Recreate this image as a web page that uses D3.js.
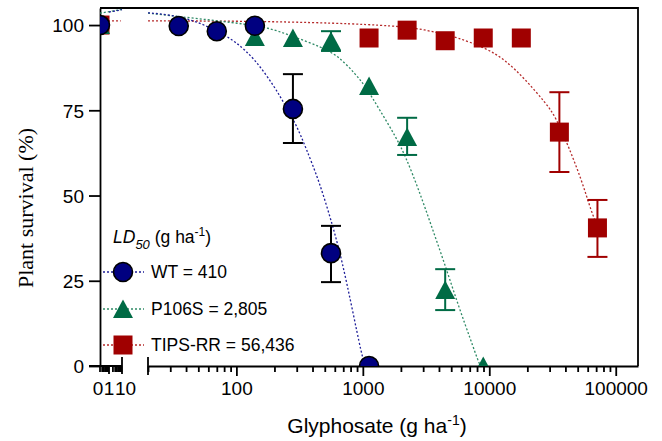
<!DOCTYPE html>
<html lang="en">
<head>
  <meta charset="UTF-8" />
  <title>Plant survival vs glyphosate</title>
  <script src="https://d3js.org/d3.v7.min.js"></script>
  <style>
    body { margin: 0; background: #fff; font-family: "Liberation Sans", Arial, sans-serif; }
    .axis path, .axis line { stroke: #000; stroke-width: 1.8; }
    .axis text { font-size: 19px; fill: #000; font-family: "Liberation Sans", Arial, sans-serif; }
    .fit { fill: none; stroke-width: 1.3; stroke-dasharray: 2,2; }
  </style>
</head>
<body>
<svg width="662" height="441"></svg>
<script>
  // measured points
  const wtDose = [0, 35, 70, 140, 280, 560, 1120];
  const wtSurv = [100, 99.7, 98.2, 99.8, 75.4, 33.1, 0];
  const wtLow  = [null, null, null, null, 65.4, 24.6, null];
  const wtHigh = [null, null, null, null, 85.6, 41.1, null];

  const p106Dose = [0, 140, 280, 560, 1120, 2240, 4480, 8960];
  const p106Surv = [100, 96.5, 96.2, 95.3, 82.1, 67.2, 22.3, 0];
  const p106Low  = [null, null, null, 92.4, null, 61.9, 16.4, null];
  const p106High = [null, null, null, 98.2, null, 72.8, 28.4, null];

  const tipsDose = [0, 1120, 2240, 4480, 8960, 17920, 35840, 71680];
  const tipsSurv = [100, 96.2, 98.5, 95.4, 96.2, 96.2, 68.6, 40.5];
  const tipsLow  = [null, null, null, null, null, null, 56.9, 32];
  const tipsHigh = [null, null, null, null, null, null, 80.3, 48.7];

  // fitted curves
  const wtFitDose = [20, 30, 45, 70, 100, 140, 200, 247, 300, 354, 449, 580, 683, 819, 982, 1045];
  const wtFitSurv = [103.6, 103, 101.5, 98.4, 95, 90, 82, 76, 70.5, 64, 54.5, 41, 31, 17.3, 3, 0];
  const wtLeftDose = [1, 10];
  const wtLeftSurv = [103.8, 104.5];

  const p106FitDose = [20, 33, 73, 115, 174, 275, 474, 646, 881, 1058, 1340, 1825, 2188, 2773, 3508, 4529, 5740, 7140, 8260, 8570];
  const p106FitSurv = [103.5, 102.6, 101.2, 100.3, 99.4, 96.8, 93.5, 90.8, 85.5, 81.8, 75.5, 67.2, 61.3, 51.6, 40.8, 29, 17.3, 7.6, 0.9, 0];
  const p106LeftDose = [0, 1, 10];
  const p106LeftSurv = [103.5, 103.9, 104.6];

  const tipsFitDose = [20, 105, 646, 1825, 2624, 3990, 5433, 9376, 13490, 19430, 28000, 33600, 42500, 53800, 64600, 71680];
  const tipsFitSurv = [101.2, 101.2, 100.6, 99.7, 99.1, 97.7, 96.5, 93.3, 89.7, 83.9, 77.1, 73, 64.2, 54.5, 44.9, 41];
  const tipsLeftDose = [0, 8];
  const tipsLeftSurv = [101.2, 101.2];

  const yTicks = [0, 25, 50, 75, 100];
  const xMajor = [100, 1000, 10000, 100000];
  const leftMajor = [1, 10];
  const leftLabels = [0, 1, 10];
  const legendTitle = "LD";
  const legendLabels = ["WT = 410", "P106S = 2,805", "TIPS-RR = 56,436"];

  const svg = d3.select("svg");
  const L = 100, R = 638, T = 8, B = 366;

  const y = d3.scaleLinear().domain([0, 105]).range([B, T]);
  const xLeft = d3.scaleLog().domain([1, 10]).range([L + 9, L + 22]);
  const xMain = d3.scaleLog().domain([20, 150000]).range([L + 48, R]);
  const xPos = d => d === 0 ? L : (d <= 10 ? xLeft(d) : xMain(d));

  const series = [
    { dose: tipsDose, surv: tipsSurv, low: tipsLow, high: tipsHigh, fd: tipsFitDose, fs: tipsFitSurv,
      ld: tipsLeftDose, ls: tipsLeftSurv, fill: "#a00000", bar: "#a00000", line: "#b52a2a", shape: "square" },
    { dose: p106Dose, surv: p106Surv, low: p106Low, high: p106High, fd: p106FitDose, fs: p106FitSurv,
      ld: p106LeftDose, ls: p106LeftSurv, fill: "#006b45", bar: "#006b45", line: "#2f8a66", shape: "triangle" },
    { dose: wtDose, surv: wtSurv, low: wtLow, high: wtHigh, fd: wtFitDose, fs: wtFitSurv,
      ld: wtLeftDose, ls: wtLeftSurv, fill: "#000080", bar: "#000", line: "#1f1f99", shape: "circle" }
  ];

  svg.append("defs").append("clipPath").attr("id", "plot")
    .append("rect").attr("x", L).attr("y", T).attr("width", R - L).attr("height", B - T);

  // frame
  svg.append("path")
    .attr("d", `M${L},${T}H${R}V${B}`)
    .attr("fill", "none").attr("stroke", "#000").attr("stroke-width", 1.8);

  // y axis
  const yAxis = svg.append("g").attr("class", "axis")
    .attr("transform", `translate(${L},0)`)
    .call(d3.axisLeft(y).tickValues(yTicks).tickSize(11).tickSizeOuter(0).tickPadding(5));
  yAxis.selectAll("text").attr("dy", "0.36em");

  // main x axis: minor ticks then major ones
  const minor = [];
  [10, 100, 1000, 10000, 100000].forEach(p => {
    for (let k = 2; k <= 9; k++) if (p * k >= 20 && p * k <= 150000) minor.push(p * k);
  });
  svg.append("g").attr("class", "axis")
    .attr("transform", `translate(0,${B})`)
    .call(d3.axisBottom(xMain).tickValues(minor).tickSize(6).tickSizeOuter(0).tickFormat(""));
  const xAx = svg.append("g").attr("class", "axis")
    .attr("transform", `translate(0,${B})`)
    .call(d3.axisBottom(xMain).tickValues(xMajor).tickSize(10).tickSizeOuter(0).tickPadding(6)
      .tickFormat(d3.format("d")));
  xAx.select(".domain").remove();

  // left (broken) segment
  const leftG = svg.append("g").attr("class", "axis").attr("transform", `translate(0,${B})`);
  leftG.append("line").attr("x1", L - 11).attr("x2", xLeft(10)).attr("y1", 0).attr("y2", 0);
  const leftMinor = [0.3, 0.4, 0.5, 0.6, 0.7, 0.8, 0.9, 2, 3, 4, 5, 6, 7, 8, 9];
  leftG.selectAll(".lm").data(leftMinor).join("line")
    .attr("x1", d => xLeft(d)).attr("x2", d => xLeft(d)).attr("y1", 0).attr("y2", 6);
  leftG.append("line").attr("x1", L).attr("x2", L).attr("y1", 0).attr("y2", 6);
  leftG.selectAll(".lM").data(leftMajor).join("line")
    .attr("x1", d => xLeft(d)).attr("x2", d => xLeft(d)).attr("y1", d => d === 10 ? -9 : 0).attr("y2", 8);
  // break mark at start of the main segment
  leftG.append("line").attr("x1", xMain(20)).attr("x2", xMain(20)).attr("y1", -9).attr("y2", 9);
  const leftShift = { 0: -2, 1: 0, 10: 3.5 };
  leftG.selectAll("text").data(leftLabels).join("text")
    .attr("x", d => xPos(d) + leftShift[d]).attr("y", 16).attr("dy", "0.71em")
    .attr("text-anchor", "middle").attr("fill", "#000").text(d => d);

  // axis titles
  const xt = svg.append("text").attr("x", 377).attr("y", 433).attr("text-anchor", "middle")
    .style("font-size", "21px").style("font-family", "'Liberation Sans', Arial, sans-serif");
  xt.append("tspan").text("Glyphosate (g ha");
  xt.append("tspan").attr("dy", -8).style("font-size", "14px").text("-1");
  xt.append("tspan").attr("dy", 8).text(")");

  svg.append("text").attr("transform", "translate(33,208) rotate(-90)")
    .attr("text-anchor", "middle")
    .style("font-size", "22px").style("font-family", "'Liberation Serif', 'Times New Roman', serif")
    .text("Plant survival (%)");

  // plot contents
  const plot = svg.append("g").attr("clip-path", "url(#plot)");
  const line = d3.line().x(d => xPos(d[0])).y(d => y(d[1])).curve(d3.curveBasis);

  series.forEach(s => {
    plot.append("path").attr("class", "fit").attr("stroke", s.line)
      .attr("d", line(d3.zip(s.fd, s.fs)));
    plot.append("path").attr("class", "fit").attr("stroke", s.line)
      .attr("d", line(d3.zip(s.ld, s.ls)));
  });

  const tri = "M0,-9.5L10,9L-10,9Z";
  function marker(g, shape, fill) {
    if (shape === "circle") {
      g.append("circle").attr("r", 9.5).attr("fill", fill).attr("stroke", "#000").attr("stroke-width", 1.6);
    } else if (shape === "square") {
      g.append("rect").attr("x", -9.5).attr("y", -9.5).attr("width", 19).attr("height", 19).attr("fill", fill);
    } else {
      g.append("path").attr("d", tri).attr("fill", fill);
    }
  }

  series.forEach(s => {
    const pts = s.dose.map((d, i) => ({ d, v: s.surv[i], lo: s.low[i], hi: s.high[i] }));
    pts.filter(p => p.hi != null).forEach(p => {
      const g = plot.append("g").attr("stroke", s.bar).attr("stroke-width", 2);
      const cx = xPos(p.d);
      g.append("line").attr("x1", cx).attr("x2", cx).attr("y1", y(p.lo)).attr("y2", y(p.hi));
      [p.lo, p.hi].forEach(v => g.append("line").attr("x1", cx - 10).attr("x2", cx + 10).attr("y1", y(v)).attr("y2", y(v)));
    });
    pts.forEach(p => {
      const g = plot.append("g").attr("transform", `translate(${xPos(p.d)},${y(p.v)})`);
      marker(g, s.shape, s.fill);
    });
  });

  // legend
  const lg = svg.append("g").style("font-family", "'Liberation Sans', Arial, sans-serif");
  const title = lg.append("text").attr("x", 113).attr("y", 243).style("font-size", "17.5px");
  title.append("tspan").style("font-style", "italic").text(legendTitle);
  title.append("tspan").attr("dy", 6).style("font-style", "italic").style("font-size", "13px").text("50");
  title.append("tspan").attr("dy", -6).text(" (g ha");
  title.append("tspan").attr("dy", -7).style("font-size", "12px").text("-1");
  title.append("tspan").attr("dy", 7).text(")");

  const legendY = [272, 309, 345];
  const legendOrder = [series[2], series[1], series[0]];
  legendOrder.forEach((s, i) => {
    const ly = legendY[i];
    lg.append("line").attr("class", "fit").attr("stroke", s.line)
      .attr("x1", 103).attr("x2", 144).attr("y1", ly).attr("y2", ly)
      .style("fill", "none").style("stroke-width", 1.3).style("stroke-dasharray", "2,2");
    marker(lg.append("g").attr("transform", `translate(123,${ly})`), s.shape, s.fill);
    lg.append("text").attr("x", 151).attr("y", ly).attr("dy", "0.36em")
      .style("font-size", "17.5px").text(legendLabels[i]);
  });
</script>
</body>
</html>
